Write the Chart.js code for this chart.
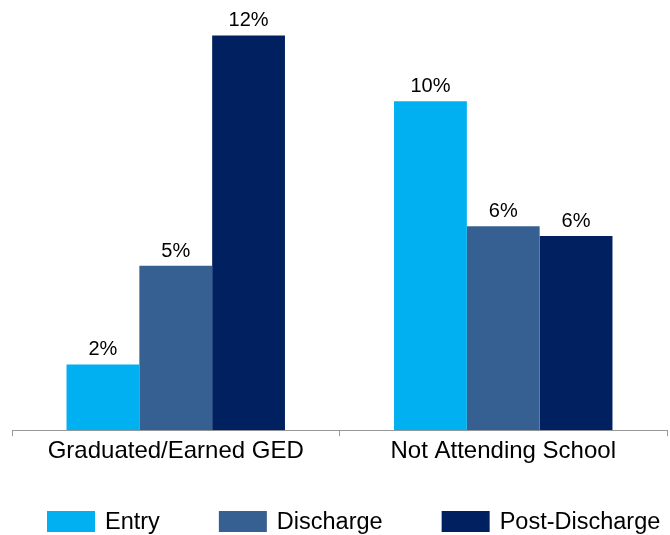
<!DOCTYPE html>
<html>
<head>
<meta charset="utf-8">
<script src="https://cdn.jsdelivr.net/npm/chart.js@4/dist/chart.umd.min.js"></script>
<style>
  html, body { margin: 0; padding: 0; background: #fff; }
  #wrap { width: 670px; height: 535px; }
</style>
</head>
<body>
<div id="wrap"><canvas id="chart" width="670" height="535"></canvas></div>
<script>
const categories = ['Graduated/Earned GED', 'Not Attending School'];
const seriesNames = ['Entry', 'Discharge', 'Post-Discharge'];
const entryValues = [2.0, 10.0];
const dischargeValues = [5.0, 6.2];
const postDischargeValues = [12.0, 5.9];
const seriesColors = ['#00b0f0', '#376092', '#002060'];

const FONT = '"Liberation Sans", Arial, sans-serif';

// percent labels above each bar
const barLabels = {
  id: 'barLabels',
  afterDatasetsDraw(chart) {
    const ctx = chart.ctx;
    ctx.save();
    ctx.font = `20px ${FONT}`;
    ctx.fillStyle = '#000';
    ctx.textAlign = 'center';
    ctx.textBaseline = 'alphabetic';
    chart.data.datasets.forEach((ds, i) => {
      chart.getDatasetMeta(i).data.forEach((bar, j) => {
        ctx.fillText(Math.round(ds.data[j]) + '%', bar.x, bar.y - 9);
      });
    });
    ctx.restore();
  }
};

// legend row at the bottom
const bottomLegend = {
  id: 'bottomLegend',
  afterDraw(chart) {
    const ctx = chart.ctx;
    ctx.save();
    ctx.font = `23.5px ${FONT}`;
    ctx.textBaseline = 'alphabetic';
    let x = 47;
    const y = 521;
    chart.data.datasets.forEach((ds) => {
      ctx.fillStyle = ds.backgroundColor;
      ctx.fillRect(x, y - 10, 48, 21);
      ctx.fillStyle = '#000';
      ctx.fillText(ds.label, x + 58, y + 8);
      x += 58 + ctx.measureText(ds.label).width + 59;
    });
    ctx.restore();
  }
};

new Chart(document.getElementById('chart'), {
  type: 'bar',
  data: {
    labels: categories,
    datasets: [
      { label: seriesNames[0], data: entryValues, backgroundColor: seriesColors[0] },
      { label: seriesNames[1], data: dischargeValues, backgroundColor: seriesColors[1] },
      { label: seriesNames[2], data: postDischargeValues, backgroundColor: seriesColors[2] },
    ],
  },
  options: {
    responsive: false,
    animation: false,
    layout: { padding: { top: 19, left: 12, right: 3, bottom: 68 } },
    datasets: {
      bar: { categoryPercentage: 0.667, barPercentage: 1.0 },
    },
    scales: {
      x: {
        grid: {
          display: true,
          drawOnChartArea: false,
          drawTicks: true,
          tickLength: 6,
          color: '#999',
          offset: true,
        },
        border: { display: true, color: '#999', width: 1 },
        ticks: {
          color: '#000',
          font: { family: FONT, size: 24 },
          padding: 1,
          maxRotation: 0,
        },
      },
      y: {
        display: false,
        min: 0,
        max: 12.5,
      },
    },
    plugins: {
      legend: { display: false },
      tooltip: { enabled: false },
    },
  },
  plugins: [barLabels, bottomLegend],
});
</script>
</body>
</html>
